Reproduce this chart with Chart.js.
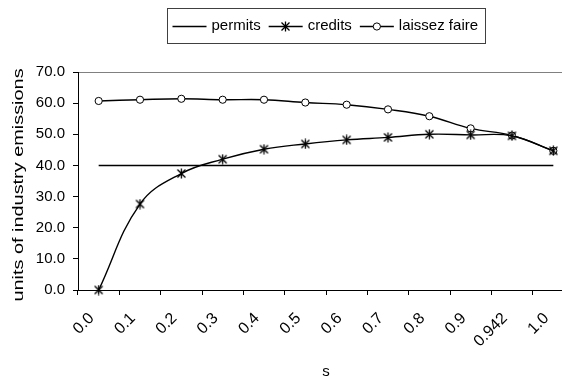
<!DOCTYPE html>
<html>
<head>
<meta charset="utf-8">
<script src="https://cdn.jsdelivr.net/npm/chart.js@4/dist/chart.umd.min.js"></script>
<style>
  html, body { margin: 0; padding: 0; background: #fff; overflow: hidden; }
  #wrap { width: 562px; height: 383px; overflow: hidden; }
  canvas { display: block; }
</style>
</head>
<body>
<div id="wrap"><canvas id="c" width="600" height="383"></canvas></div>
<script>
// values of s along the category axis
const categories = ['0.0', '0.1', '0.2', '0.3', '0.4', '0.5', '0.6', '0.7', '0.8', '0.9', '0.942', '1.0'];
// units of industry emissions under each regime
const permits = [40, 40, 40, 40, 40, 40, 40, 40, 40, 40, 40, 40];
const credits = [0, 27.6, 37.4, 42.0, 45.2, 46.9, 48.2, 49.0, 50.0, 49.8, 49.5, 44.7];
const laissezFaire = [60.7, 61.1, 61.4, 61.1, 61.1, 60.2, 59.5, 58.0, 55.8, 51.9, 49.6, 44.7];
// y-axis ticks
const yTicks = [0, 10, 20, 30, 40, 50, 60, 70];

const FONT = '"Liberation Sans", Arial, sans-serif';
Chart.defaults.font.family = FONT;
Chart.defaults.font.size = 15;
Chart.defaults.color = '#000';

// asterisk marker: an X crossed by a vertical stroke
function makeStar() {
  const c = document.createElement('canvas');
  c.width = 11; c.height = 11;
  const g = c.getContext('2d');
  g.strokeStyle = '#000';
  g.lineWidth = 1.3;
  g.beginPath();
  g.moveTo(1.5, 1.5); g.lineTo(9.5, 9.5);
  g.moveTo(9.5, 1.5); g.lineTo(1.5, 9.5);
  g.moveTo(5.5, 0.5); g.lineTo(5.5, 10.5);
  g.stroke();
  return c;
}
const starMarker = makeStar();

// boxed legend with a line sample and marker for each series
const boxedLegend = {
  id: 'boxedLegend',
  afterDraw(chart) {
    const ctx = chart.ctx;
    const sets = chart.data.datasets;
    const sample = 34, gapText = 5, gapItem = 8, padL = 5, padR = 7;
    ctx.save();
    ctx.font = '15px ' + FONT;
    const widths = sets.map(ds => ctx.measureText(ds.label).width);
    let total = padL + padR;
    widths.forEach((w, i) => { total += sample + gapText + w + (i < sets.length - 1 ? gapItem : 0); });
    const cx = (chart.chartArea.left + chart.chartArea.right) / 2;
    const left = Math.round(cx - total / 2) + 0.5;
    const top = 8.5, h = 35, cy = 26;
    ctx.strokeStyle = '#404040';
    ctx.lineWidth = 1;
    ctx.strokeRect(left, top, Math.round(total), h);
    let x = left + padL;
    sets.forEach((ds, i) => {
      ctx.strokeStyle = '#000';
      ctx.lineWidth = 1.4;
      ctx.beginPath();
      ctx.moveTo(x, cy + 0.5);
      ctx.lineTo(x + sample, cy + 0.5);
      ctx.stroke();
      const mx = x + sample / 2;
      if (ds.pointStyle === starMarker) {
        ctx.drawImage(starMarker, Math.round(mx - 5.5), Math.round(cy - 5));
      } else if (ds.pointStyle === 'circle' && ds.pointRadius > 0) {
        ctx.fillStyle = '#fff';
        ctx.lineWidth = 1;
        ctx.beginPath();
        ctx.arc(mx, cy + 0.5, ds.pointRadius, 0, Math.PI * 2);
        ctx.fill();
        ctx.stroke();
      }
      x += sample + gapText;
      ctx.fillStyle = '#000';
      ctx.textBaseline = 'middle';
      ctx.textAlign = 'left';
      ctx.fillText(ds.label, x, cy);
      x += widths[i] + gapItem;
    });
    ctx.restore();
  }
};

// the vertical axis title is set in tall, narrow lettering
const tallAxisTitle = {
  id: 'tallAxisTitle',
  beforeDraw(chart) {
    const s = chart.scales.y;
    if (!s || s._tallTitle) return;
    const orig = s.drawTitle;
    s.drawTitle = function () {
      const ctx = this.ctx;
      const mid = (this.top + this.bottom) / 2;
      ctx.save();
      ctx.translate(0, mid + 4);
      ctx.scale(1, 1.42);
      ctx.translate(0, -mid);
      orig.call(this);
      ctx.restore();
    };
    s._tallTitle = true;
  }
};

new Chart(document.getElementById('c'), {
  type: 'line',
  data: {
    labels: categories,
    datasets: [
      {
        label: 'permits',
        data: permits,
        borderColor: '#000',
        borderWidth: 1.4,
        pointRadius: 0,
        pointStyle: false,
        tension: 0,
        clip: false
      },
      {
        label: 'credits',
        data: credits,
        borderColor: '#000',
        borderWidth: 1.4,
        pointStyle: starMarker,
        pointRadius: 5,
        tension: 0.4,
        clip: false
      },
      {
        label: 'laissez faire',
        data: laissezFaire,
        borderColor: '#000',
        borderWidth: 1.4,
        pointStyle: 'circle',
        pointRadius: 3.6,
        pointBorderWidth: 1,
        pointBackgroundColor: '#fff',
        pointBorderColor: '#000',
        tension: 0.4,
        clip: false
      }
    ]
  },
  options: {
    responsive: false,
    animation: false,
    devicePixelRatio: 1,
    layout: { padding: { top: 72, right: 26, bottom: 0, left: 0 } },
    plugins: {
      legend: { display: false },
      tooltip: { enabled: false }
    },
    scales: {
      x: {
        type: 'category',
        offset: true,
        grid: {
          offset: true,
          drawOnChartArea: false,
          drawTicks: true,
          tickLength: 5,
          tickColor: '#000'
        },
        border: { color: '#000', width: 1 },
        ticks: {
          autoSkip: false,
          maxRotation: 45,
          minRotation: 45,
          padding: 14,
          labelOffset: -7,
          font: { size: 16 }
        },
        title: {
          display: true,
          text: 's',
          font: { size: 15 },
          padding: { top: 0, bottom: 2 }
        },
        afterFit(s) { s.height = 93; }
      },
      y: {
        min: 0,
        max: 70,
        afterBuildTicks(s) { s.ticks = yTicks.map(v => ({ value: v })); },
        grid: {
          drawOnChartArea: true,
          drawTicks: true,
          tickLength: 5,
          color: c => (c.tick && c.tick.value === 70 ? '#808080' : 'rgba(0,0,0,0)'),
          tickColor: '#000'
        },
        border: { color: '#000', width: 1 },
        ticks: {
          padding: 8,
          font: { size: 15 },
          callback: v => Number(v).toFixed(1)
        },
        title: {
          display: true,
          text: 'units of industry emissions',
          font: { size: 14 },
          padding: { top: 11, bottom: 0 }
        },
        afterFit(s) { s.width = 78; }
      }
    }
  },
  plugins: [boxedLegend, tallAxisTitle]
});
</script>
</body>
</html>
